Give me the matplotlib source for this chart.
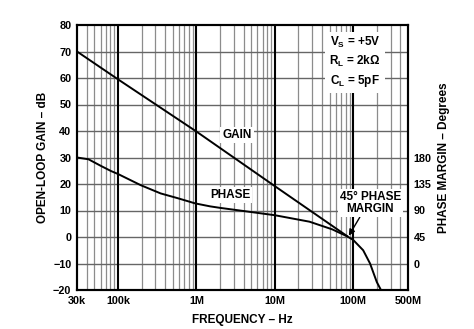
import matplotlib
matplotlib.use("Agg")
import matplotlib.pyplot as plt

# Data
gain_freq = [30e3, 100e3, 1e6, 10e6, 84e6]
gain_db = [70, 59.5, 39.8, 19.2, 0.3]

phase_freq = [30e3, 42e3, 61e3, 81.5e3, 100e3, 195e3, 350e3, 574e3, 970e3, 1.5e6,
              2e6, 10e6, 27.7e6, 54e6, 84e6, 100e6, 134e6, 164e6, 200e6, 226e6]
phase_deg = [180, 177, 165.5, 157, 152, 133, 119, 111, 102, 97,
             94.5, 82, 71, 58, 46, 40, 22.5, 0, -31.5, -45]

x_ticks = [30e3, 100e3, 1e6, 10e6, 100e6, 500e6]
x_labels = ["30k", "100k", "1M", "10M", "100M", "500M"]
gain_ticks = [-20, -10, 0, 10, 20, 30, 40, 50, 60, 70, 80]
phase_ticks = [0, 45, 90, 135, 180]

plt.rcParams['font.family'] = ['Liberation Sans', 'DejaVu Sans']
plt.rcParams['font.weight'] = 'bold'
plt.rcParams['font.size'] = 7.8
plt.rcParams['mathtext.fontset'] = 'custom'
plt.rcParams['mathtext.rm'] = 'Liberation Sans:bold'

fig = plt.figure(figsize=(4.74, 3.29), dpi=100)
ax = fig.add_axes([77/474, 1-290/329, (408-77)/474, (290-25)/329])
ax.set_xscale('log')
ax.set_xlim(30e3, 500e6)
ax.set_ylim(-20, 80)

# grid
for dec in [1e4, 1e5, 1e6, 1e7, 1e8]:
    for m in range(2, 10):
        f = dec * m
        if 30e3 < f < 500e6:
            ax.axvline(f, color='#8c8c8c', lw=0.9, zorder=1)
for f in [1e5, 1e6, 1e7, 1e8]:
    ax.axvline(f, color='black', lw=1.5, zorder=2)
for g in gain_ticks[1:-1]:
    ax.axhline(g, color='#666666', lw=1.0, zorder=1.5)

ax.plot(gain_freq, gain_db, color='black', lw=1.4, zorder=5)

ax.set_xticks(x_ticks)
ax.set_xticklabels(x_labels)
ax.xaxis.set_minor_locator(matplotlib.ticker.NullLocator())
ax.set_yticks(gain_ticks)
ax.tick_params(length=0, pad=4)
for s in ax.spines.values():
    s.set_linewidth(1.5)
ax.set_xlabel("FREQUENCY – Hz", fontsize=8.5, fontweight='bold', labelpad=6)
ax.set_ylabel("OPEN-LOOP GAIN – dB", fontsize=8.5, fontweight='bold', labelpad=3)

ax2 = ax.twinx()
ax2.set_ylim(-45, 405)
ax2.set_yticks(phase_ticks)
ax2.tick_params(length=0, pad=4)
for s in ax2.spines.values():
    s.set_linewidth(1.5)
ax2.plot(phase_freq, phase_deg, color='black', lw=1.4, zorder=5)
ax2.set_ylabel("PHASE MARGIN – Degrees", fontsize=8.5, fontweight='bold', labelpad=5)

bb = dict(facecolor='white', edgecolor='none', pad=1.5)
ax.text(3.3e6, 38.5, "GAIN", ha='center', va='center', fontsize=8.5, fontweight='bold', bbox=bb, zorder=6)
ax.text(2.7e6, 15.8, "PHASE", ha='center', va='center', fontsize=8.5, fontweight='bold', bbox=bb, zorder=6)
ax.text(0.84, 0.86, "V$_\\mathrm{S}$ = +5V\nR$_\\mathrm{L}$ = 2k\u03a9\nC$_\\mathrm{L}$ = 5pF",
        transform=ax.transAxes, ha='center', va='center', fontsize=8.5, fontweight='bold',
        linespacing=1.35, bbox=dict(facecolor='white', edgecolor='none', pad=3), zorder=6)
ax.annotate("45\u00b0 PHASE\nMARGIN", xy=(88e6, 0.5), xytext=(165e6, 12.8),
            ha='center', va='center', fontsize=8.5, fontweight='bold', linespacing=1.0,
            bbox=bb, zorder=6,
            arrowprops=dict(arrowstyle='-|>', color='black', lw=1.0, mutation_scale=9,
                            shrinkA=0, shrinkB=0, relpos=(0.35, 0.0)))

fig.savefig("out.png", dpi=100)
